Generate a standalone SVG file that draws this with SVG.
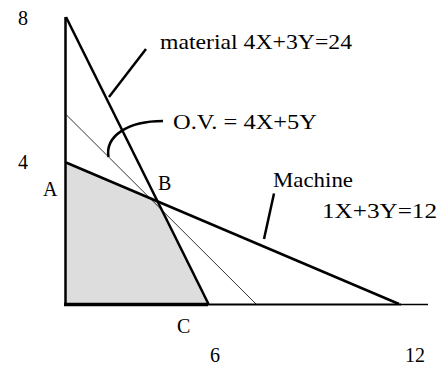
<svg xmlns="http://www.w3.org/2000/svg" width="443" height="366" viewBox="0 0 443 366">
<style>
.lbl{font-family:'Liberation Serif','Times New Roman',Times,serif;font-size:20px;fill:#000}
.big{font-size:21px}
.thick{stroke:#000;stroke-width:2.5;fill:none}
.thin{stroke:#000;stroke-width:0.8;fill:none}
.lead{stroke:#000;stroke-width:2.5;fill:none}
</style>
<rect width="443" height="366" fill="#fff"/>
<g id="feasible-region">
<polygon points="66,162.5 158,202 208,304 66,304" fill="#dddddd"/>
</g>
<g id="axes">
<line class="thick" x1="65.5" y1="17" x2="65.5" y2="305"/>
<line class="thick" x1="64" y1="304.5" x2="208" y2="304.5" style="stroke-width:3.5"/>
<line class="thick" x1="208" y1="304.5" x2="401" y2="304.5" style="stroke-width:2.2"/>
<line class="thin" x1="400" y1="304.5" x2="428" y2="304.5" style="stroke-width:1.5"/>
</g>
<g id="connectors">
<line id="material-line" class="thick" x1="66" y1="17" x2="208.5" y2="304"/>
<line id="machine-line" class="thick" x1="66" y1="162.5" x2="399" y2="304"/>
<line id="ov-line" class="thin" x1="66.5" y1="115" x2="256" y2="304"/>
<line class="lead" x1="109" y1="97" x2="146" y2="49"/>
<path class="lead" d="M108.5,157 C105,136 128,121 163,121"/>
<line class="lead" x1="264" y1="239" x2="274" y2="193.5"/>
</g>
<g id="labels" class="lbl">
<text class="lbl" x="18" y="25">8</text>
<text class="lbl" x="18" y="169">4</text>
<text class="lbl" x="43" y="196">A</text>
<text class="lbl" x="158" y="190">B</text>
<text class="lbl" x="177" y="333">C</text>
<text class="lbl" x="210" y="362">6</text>
<text class="lbl" x="405" y="362">12</text>
<text class="lbl big" x="160" y="49" textLength="192" lengthAdjust="spacingAndGlyphs">material 4X+3Y=24</text>
<text class="lbl big" x="173" y="129" textLength="144" lengthAdjust="spacingAndGlyphs">O.V. = 4X+5Y</text>
<text class="lbl big" x="273" y="187" textLength="80" lengthAdjust="spacingAndGlyphs">Machine</text>
<text class="lbl big" x="322" y="218" textLength="115" lengthAdjust="spacingAndGlyphs">1X+3Y=12</text>
</g>
</svg>
